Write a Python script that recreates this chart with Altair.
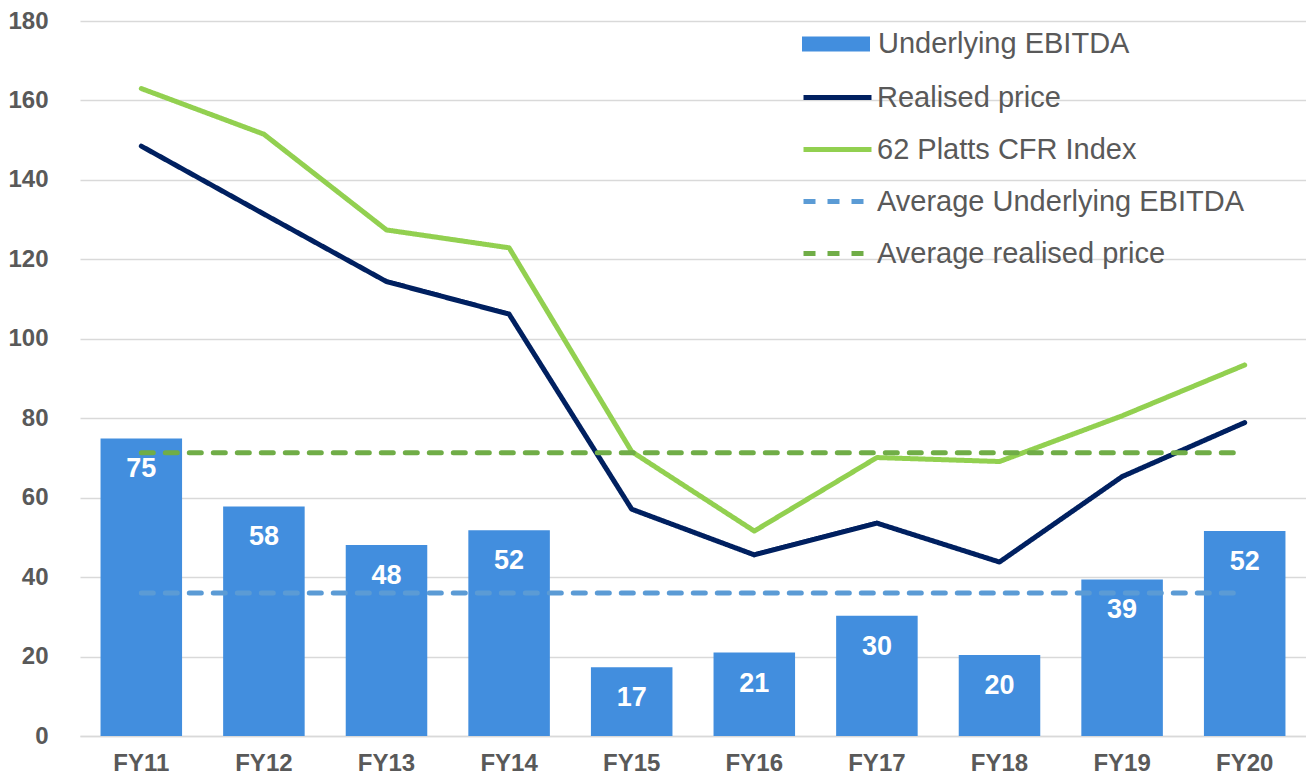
import altair as alt
import pandas as pd

years = ["FY11", "FY12", "FY13", "FY14", "FY15", "FY16", "FY17", "FY18", "FY19", "FY20"]
ebitda = [74.9, 57.8, 48.1, 51.8, 17.3, 21.0, 30.3, 20.4, 39.4, 51.6]
realised = [148.5, 131.4, 114.4, 106.2, 57.1, 45.6, 53.6, 43.8, 65.3, 78.9]
platts = [163.0, 151.5, 127.4, 122.9, 71.6, 51.6, 70.1, 69.1, 80.6, 93.4]
avg_ebitda = 36.0
avg_realised = 71.3

bar_series = ["Underlying EBITDA"]
line_series = ["Realised price", "62 Platts CFR Index",
               "Average Underlying EBITDA", "Average realised price"]
bar_color = "#428EDE"
line_colors = ["#002060", "#92D050", "#5B9BD5", "#70AD47"]
dashes = [[1, 0], [1, 0], [12, 12], [12, 12]]
y_ticks = [0, 20, 40, 60, 80, 100, 120, 140, 160, 180]

FONT = "Liberation Sans"
GREY = "#595959"

bars_df = pd.DataFrame({"year": years, "value": ebitda, "series": bar_series[0]})
solid_df = pd.concat([
    pd.DataFrame({"year": years, "value": realised, "series": line_series[0]}),
    pd.DataFrame({"year": years, "value": platts, "series": line_series[1]}),
])
avg_df = pd.concat([
    pd.DataFrame({"year": [years[0], years[-1]], "value": [avg_ebitda] * 2, "series": line_series[2]}),
    pd.DataFrame({"year": [years[0], years[-1]], "value": [avg_realised] * 2, "series": line_series[3]}),
])

x_enc = alt.X("year:N", sort=years, title=None,
              scale=alt.Scale(paddingInner=0.335, paddingOuter=0.1675),
              axis=alt.Axis(labelAngle=0, ticks=False, domainColor="#D9D9D9", domainWidth=1.5,
                            labelFontSize=24, labelFontWeight="bold", labelColor=GREY,
                            labelFont=FONT, labelPadding=15))
y_enc = alt.Y("value:Q", title=None,
              scale=alt.Scale(domain=[0, 180], nice=False),
              axis=alt.Axis(values=y_ticks, domain=False, ticks=False, gridColor="#D9D9D9",
                            gridWidth=1.5, labelFontSize=24, labelFontWeight="bold",
                            labelColor=GREY, labelFont=FONT, labelPadding=32))

common_legend = dict(title=None, orient="none", symbolSize=4624, labelFontSize=29,
                     labelColor=GREY, labelFont=FONT, padding=0, labelLimit=500)

bar_legend = alt.Legend(legendX=722, legendY=-11, symbolType="M-1,-0.22H1V0.22H-1Z",
                        symbolStrokeWidth=0, labelOffset=8, **common_legend)
line_legend = alt.Legend(legendX=721, legendY=40, symbolType="stroke", symbolStrokeWidth=5,
                         rowPadding=-14, labelOffset=3, **common_legend)

line_color = alt.Color("series:N", scale=alt.Scale(domain=line_series, range=line_colors),
                       legend=line_legend)
line_dash = alt.StrokeDash("series:N", scale=alt.Scale(domain=line_series, range=dashes),
                           legend=line_legend)

bars = alt.Chart(bars_df).mark_bar().encode(
    x=x_enc, y=y_enc,
    fill=alt.Fill("series:N", scale=alt.Scale(domain=bar_series, range=[bar_color]),
                  legend=bar_legend))

solid = alt.Chart(solid_df).mark_line(strokeWidth=5, strokeCap="round", strokeJoin="round").encode(
    x=x_enc, y=y_enc, color=line_color, strokeDash=line_dash)

avg = alt.Chart(avg_df).mark_line(strokeWidth=5, strokeCap="round").encode(
    x=x_enc, y=y_enc, color=line_color, strokeDash=line_dash)

labels = alt.Chart(bars_df).mark_text(
    baseline="middle", dy=31, color="white", fontSize=27, fontWeight="bold", font=FONT
).encode(x=x_enc, y=y_enc, text=alt.Text("value:Q", format=".0f"))

chart = alt.layer(bars, solid, avg, labels).properties(
    width=1226, height=715,
    autosize=alt.AutoSizeParams(type="none"),
    padding={"left": 72, "top": 13, "right": 0, "bottom": 39},
).configure_view(stroke=None)

chart.save("out.html", embed_options={"renderer": "svg", "actions": False})
